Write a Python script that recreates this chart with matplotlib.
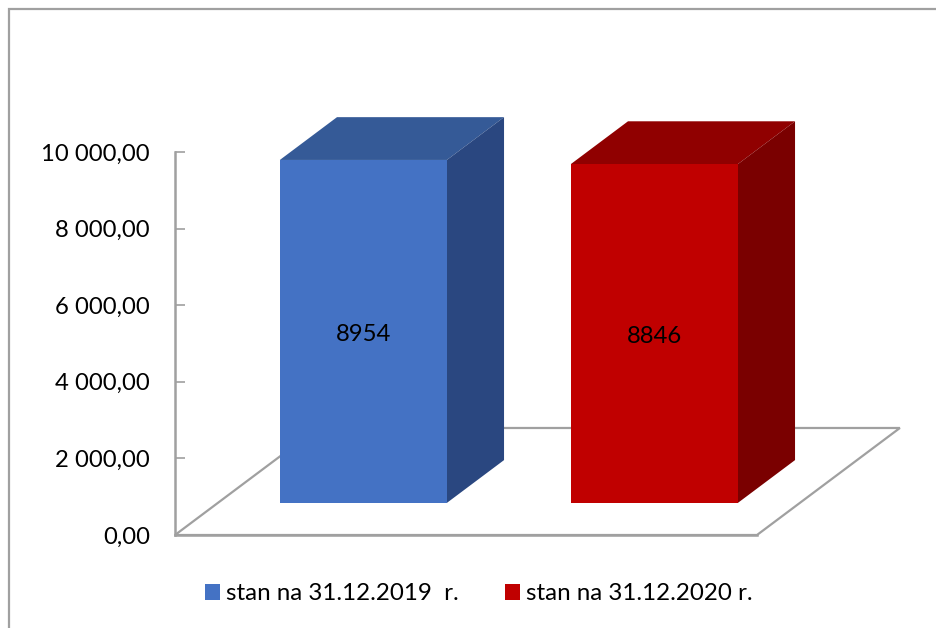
import matplotlib
matplotlib.use('Agg')
import matplotlib.pyplot as plt
from matplotlib.patches import Patch, Polygon, Rectangle

plt.rcParams['font.family'] = ['Lato', 'DejaVu Sans']

series = ['stan na 31.12.2019  r.', 'stan na 31.12.2020 r.']
values = [8954, 8846]
y_ticks = [0, 2000, 4000, 6000, 8000, 10000]
y_labels = ['0,00', '2 000,00', '4 000,00', '6 000,00', '8 000,00', '10 000,00']

front_colors = ['#4472C4', '#C00000']
top_colors = ['#355A97', '#900000']
side_colors = ['#2A4780', '#7A0000']
GRAY = '#A0A0A0'

W, H = 936, 628
fig = plt.figure(figsize=(W / 100, H / 100), dpi=100)
ax = fig.add_axes([175 / W, (H - 535) / H, (757 - 175) / W, (535 - 152) / H])
ax.set_xlim(0, 2)
ax.set_ylim(0, 10000)

# ramka wokol wykresu
fig.add_artist(Rectangle((9 / W, -0.1), 1.2, 1.1 - 9 / H, transform=fig.transFigure,
                         fill=False, ec=GRAY, lw=1.6))

# podloga 3D
floor_dx, floor_dy = 0.491, 2794
floor = [(0, 0), (2, 0), (2 + floor_dx, floor_dy), (floor_dx, floor_dy)]
ax.add_patch(Polygon(floor, closed=True, fill=False, ec=GRAY, lw=1.6, clip_on=False, zorder=1))

# slupki 3D
bar_w = 0.574
start = 0.3   # ulamek glebokosci podlogi przed slupkiem
depth = 0.4
for i, v in enumerate(values):
    x0 = i + 0.5 - bar_w / 2
    x1 = x0 + bar_w
    ox, oy = floor_dx * start, floor_dy * start
    dx, dy = floor_dx * depth, floor_dy * depth
    xa, xb = x0 + ox, x1 + ox
    ya, yb = oy, oy + v
    ax.add_patch(Polygon([(xa, yb), (xb, yb), (xb + dx, yb + dy), (xa + dx, yb + dy)],
                         closed=True, fc=top_colors[i], ec='none', clip_on=False, zorder=3))
    ax.add_patch(Polygon([(xb, ya), (xb + dx, ya + dy), (xb + dx, yb + dy), (xb, yb)],
                         closed=True, fc=side_colors[i], ec='none', clip_on=False, zorder=3))
    ax.bar(xa, v, width=bar_w, bottom=oy, align='edge', color=front_colors[i],
           clip_on=False, zorder=4)
    ax.text((xa + xb) / 2, oy + v / 2 - 70, str(v), ha='center', va='center',
            fontsize=17.2, color='black', zorder=5)

# osie
for s in ['top', 'right']:
    ax.spines[s].set_visible(False)
for s in ['left', 'bottom']:
    ax.spines[s].set_color(GRAY)
    ax.spines[s].set_linewidth(1.8)
    ax.spines[s].set_zorder(2)
ax.patch.set_visible(False)
ax.set_xticks([])
ax.set_yticks(y_ticks)
ax.set_yticklabels(y_labels, fontsize=17.2, color='black')
ax.tick_params(axis='y', direction='in', length=7, width=1.2, color=GRAY, pad=18)

handles = [Patch(fc=c, ec='none') for c in front_colors]
fig.legend(handles, series, loc='center left', bbox_to_anchor=(195.5 / W, (H - 594) / H),
           ncol=2, frameon=False, fontsize=17.4, handlelength=0.62, handleheight=0.62,
           handletextpad=0.25, columnspacing=1.9, borderpad=0.4, borderaxespad=0)

fig.savefig('out.png', dpi=100)
